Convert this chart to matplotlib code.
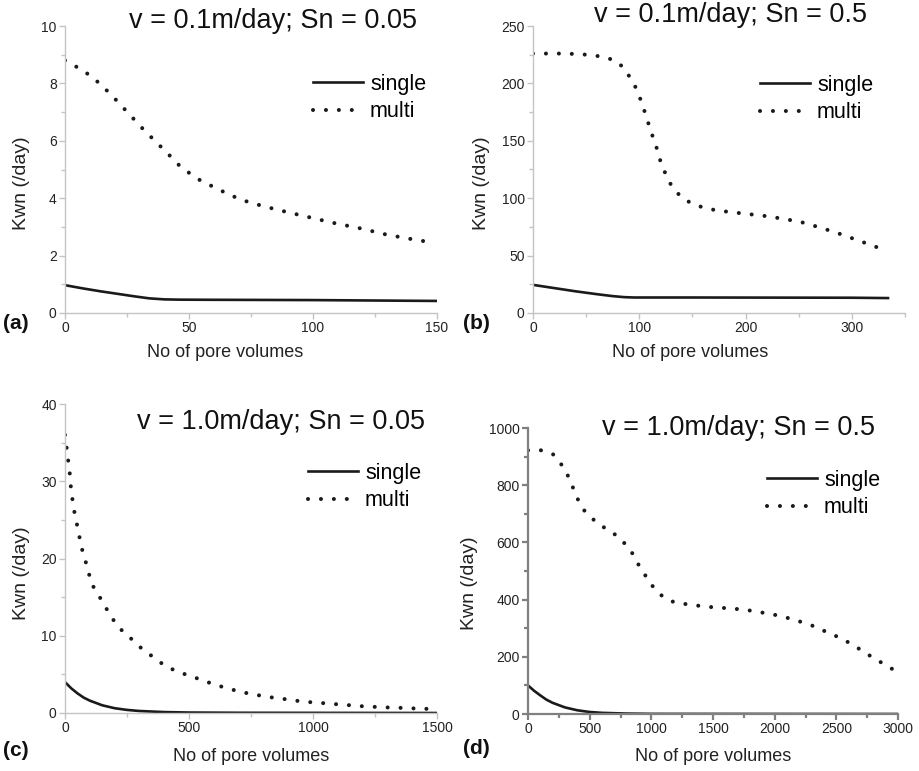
import matplotlib
matplotlib.use('Agg')
import matplotlib.pyplot as plt
import numpy as np

plt.rcParams['font.family'] = ['Liberation Sans', 'DejaVu Sans']

W, H = 919, 771

# (a) v = 0.1 m/day, Sn = 0.05
a_single_x = [0, 7, 14, 21, 28, 34, 40, 46, 60, 100, 150]
a_single_y = [0.97, 0.86, 0.76, 0.67, 0.58, 0.51, 0.475, 0.465, 0.46, 0.45, 0.42]
a_multi_x = [0, 7.7, 14.4, 20.4, 26.2, 31.9, 41.5, 47, 54.4, 62.5, 70.8, 80, 89.4,
             98.8, 108.2, 119.6, 129.7, 140, 145]
a_multi_y = [8.8, 8.43, 7.97, 7.44, 6.9, 6.37, 5.55, 5.06, 4.63, 4.28, 3.95, 3.72,
             3.52, 3.33, 3.14, 2.94, 2.73, 2.57, 2.5]

# (b) v = 0.1 m/day, Sn = 0.5
b_single_x = [0, 20, 40, 60, 75, 86, 95, 150, 300, 334]
b_single_y = [24.5, 21.7, 18.9, 16.4, 14.7, 13.8, 13.5, 13.5, 13.3, 13.0]
b_multi_x = [0, 14, 27.6, 41, 55, 66.5, 77, 85, 90, 95.6, 100, 103.4, 107, 110, 113.8,
             117.6, 120.7, 125.4, 130, 136.4, 143.6, 153, 163.6, 175.5, 187.5, 200.6,
             212.5, 225, 236.7, 249, 261, 273, 284, 294, 304, 314, 324.5, 327]
b_multi_y = [226, 226, 226, 225.6, 224.7, 223, 220, 214, 207, 198.5, 189, 180, 170,
             160.8, 150.6, 140.4, 129.4, 120, 111.3, 104, 98.3, 94, 91, 89, 87.8, 86.3,
             85.2, 83.7, 81.7, 80, 77, 73.5, 70.6, 67, 64, 60.5, 57, 56]

# (c) v = 1.0 m/day, Sn = 0.05
c_single_x = [0, 25, 50, 75, 100, 150, 200, 250, 300, 400, 500, 700, 1000, 1500]
c_single_y = [4.0, 3.2, 2.55, 2.0, 1.6, 1.0, 0.62, 0.4, 0.26, 0.12, 0.06, 0.03, 0.02, 0.0]
c_multi_x = [0, 6.7, 13.5, 20, 24, 31, 40, 51, 60.6, 71, 85, 107.7, 134.6, 181.7,
             208.6, 238, 268.5, 300, 333.8, 370, 410, 488.6, 531.6, 574.7, 619, 666,
             713, 767, 821, 875, 928.7, 982.5, 1036, 1090, 1150.7, 1204.6, 1258, 1319,
             1373, 1426.6, 1487, 1495]
c_multi_y = [36, 34.3, 32.5, 30.8, 29.1, 27.4, 25.6, 24.0, 22.4, 20.9, 19.4, 16.7,
             15.3, 12.7, 11.4, 10.4, 9.57, 8.6, 7.76, 6.9, 5.95, 4.96, 4.5, 4.0, 3.53,
             3.1, 2.7, 2.37, 2.07, 1.85, 1.6, 1.42, 1.29, 1.15, 1.0, 0.86, 0.78, 0.69,
             0.65, 0.56, 0.52, 0.5]

# (d) v = 1.0 m/day, Sn = 0.5
d_single_x = [0, 50, 100, 150, 200, 300, 400, 500, 600, 800, 1000, 3000]
d_single_y = [100, 81, 65, 50, 39, 23, 13, 7, 4, 1.5, 0.5, 0]
d_multi_x = [0, 108, 203, 257, 305, 343, 378, 413, 459, 519, 586, 662, 730, 789, 843,
             886, 938, 986, 1041, 1100, 1184, 1284, 1392, 1505, 1614, 1724, 1830, 1932,
             2035, 2130, 2230, 2324, 2414, 2495, 2576, 2654, 2730, 2803, 2873, 2951, 2960]
d_multi_y = [922, 922, 908, 881, 850, 815, 777, 742, 710, 684, 660, 641, 620, 594, 564,
             529, 494, 460, 431, 408, 391, 384, 378, 373, 370, 366, 360, 352, 344, 333,
             320, 306, 288, 273, 256, 236, 216, 195, 178, 158, 156]

panels = [
    dict(tag='(a)', title='v = 0.1m/day; Sn = 0.05', box=(65, 26, 437, 313),
         xlim=(0, 150), ylim=(0, 10), xmaj=50, ymaj=2,
         single=(a_single_x, a_single_y), multi=(a_multi_x, a_multi_y),
         title_xy=(273, 21), leg_xy=(313, 74), xlab_xy=(225, 344), ylab_xy=(22, 183),
         tag_xy=(3, 323), spine='#c4c4c4'),
    dict(tag='(b)', title='v = 0.1m/day; Sn = 0.5', box=(533, 26, 905, 313),
         xlim=(0, 350), ylim=(0, 250), xmaj=100, ymaj=50,
         single=(b_single_x, b_single_y), multi=(b_multi_x, b_multi_y),
         title_xy=(730, 15), leg_xy=(760, 75), xlab_xy=(690, 344), ylab_xy=(482, 183),
         tag_xy=(463, 323), spine='#c4c4c4'),
    dict(tag='(c)', title='v = 1.0m/day; Sn = 0.05', box=(65, 404, 437, 713),
         xlim=(0, 1500), ylim=(0, 40), xmaj=500, ymaj=10,
         single=(c_single_x, c_single_y), multi=(c_multi_x, c_multi_y),
         title_xy=(281, 422), leg_xy=(308, 463), xlab_xy=(251, 748), ylab_xy=(22, 573),
         tag_xy=(3, 750), spine='#c4c4c4'),
    dict(tag='(d)', title='v = 1.0m/day; Sn = 0.5', box=(528, 428, 898, 714),
         xlim=(0, 3000), ylim=(0, 1000), xmaj=500, ymaj=200,
         single=(d_single_x, d_single_y), multi=(d_multi_x, d_multi_y),
         title_xy=(738, 428), leg_xy=(767, 470), xlab_xy=(713, 748), ylab_xy=(470, 583),
         tag_xy=(463, 748), spine='#808080'),
]

fig = plt.figure(figsize=(W / 100, H / 100), dpi=100)


def fx(px):
    return px / W


def fy(py):
    return 1 - py / H


for p in panels:
    l, t, r, b = p['box']
    ax = fig.add_axes([fx(l), fy(b), fx(r) - fx(l), fy(t) - fy(b)])
    ax.plot(*p['single'], color='#1a1a1a', lw=1.9, label='single')
    ax.plot(*p['multi'], color='#1a1a1a', lw=2.9, linestyle=(0, (0.01, 3.2)),
            dash_capstyle='round', label='multi')
    ax.set_xlim(*p['xlim'])
    ax.set_ylim(*p['ylim'])
    ax.set_xticks(np.arange(p['xlim'][0], p['xlim'][1] + 1, p['xmaj']))
    ax.set_xticks(np.arange(p['xlim'][0], p['xlim'][1] + 1, p['xmaj'] / 2), minor=True)
    ax.set_yticks(np.arange(p['ylim'][0], p['ylim'][1] + 1, p['ymaj']))
    ax.set_yticks(np.arange(p['ylim'][0], p['ylim'][1] + 1, p['ymaj'] / 2), minor=True)
    for s in ['top', 'right']:
        ax.spines[s].set_visible(False)
    lw = 1.6 if p['tag'] == '(d)' else 1.0
    for s in ['left', 'bottom']:
        ax.spines[s].set_color(p['spine'])
        ax.spines[s].set_linewidth(lw)
    ax.tick_params(which='both', direction='out', color=p['spine'], width=lw,
                   labelsize=10, labelcolor='#222222', pad=2)
    ax.tick_params(which='major', length=4)
    ax.tick_params(which='minor', length=3)
    ax.patch.set_alpha(0)

    ax.set_xlabel('No of pore volumes', fontsize=13, color='#222222', va='top')
    ax.xaxis.set_label_coords(fx(p['xlab_xy'][0]), fy(p['xlab_xy'][1]),
                              transform=fig.transFigure)
    ax.set_ylabel('Kwn (/day)', fontsize=14, color='#222222', va='center')
    ax.yaxis.set_label_coords(fx(p['ylab_xy'][0]), fy(p['ylab_xy'][1]),
                              transform=fig.transFigure)

    fig.text(fx(p['title_xy'][0]), fy(p['title_xy'][1]), p['title'], fontsize=19.5,
             ha='center', va='center', color='#111111')
    fig.text(fx(p['tag_xy'][0]), fy(p['tag_xy'][1]), p['tag'], fontsize=15,
             fontweight='bold', ha='left', va='center', color='#111111')

    ax.legend(loc='upper left', bbox_to_anchor=(fx(p['leg_xy'][0]), fy(p['leg_xy'][1])),
              bbox_transform=fig.transFigure, frameon=False, fontsize=15.5,
              handlelength=2.3, handletextpad=0.35, labelspacing=0.3, borderpad=0,
              borderaxespad=0)

fig.savefig('out.png', dpi=100)
